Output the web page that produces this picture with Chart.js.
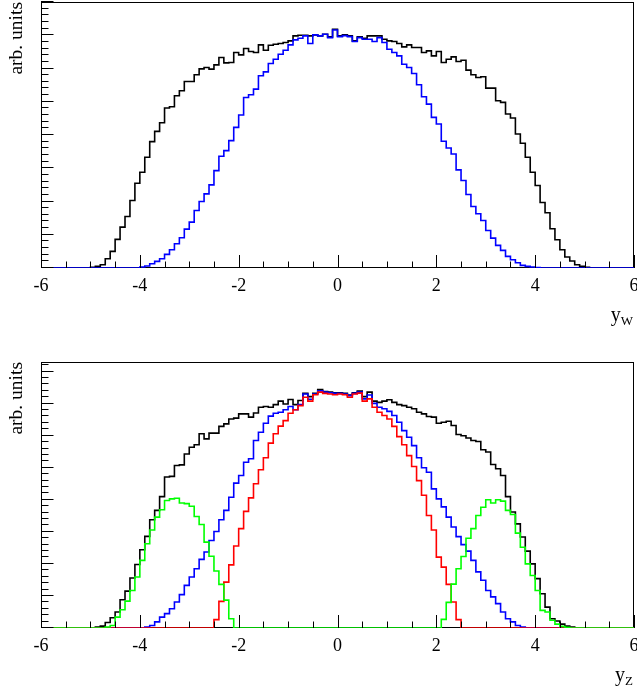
<!DOCTYPE html>
<html>
<head>
<meta charset="utf-8">
<title>Rapidity distributions</title>
<script src="https://cdn.jsdelivr.net/npm/chart.js@4.4.1/dist/chart.umd.min.js"></script>
<style>
  body { margin: 0; background: #fff; }
  #page { position: relative; width: 637px; height: 691px; overflow: hidden;
          font-family: 'Liberation Serif', 'Times New Roman', serif; color: #000; }
  #page canvas { position: absolute; left: 0; }
  .ytitle { position: absolute; width: 90px; height: 20px; line-height: 20px; font-size: 19.5px;
            text-align: right; white-space: nowrap; transform: rotate(-90deg); }
  .xtitle { position: absolute; right: 4px; font-size: 20px; line-height: 20px; white-space: nowrap; }
  .xtitle span { font-size: 13px; position: relative; top: 4px; }
</style>
</head>
<body>
<div id="page">
  <canvas id="wChart" width="637" height="345" style="top:0"></canvas>
  <canvas id="zChart" width="637" height="346" style="top:345px"></canvas>
  <div class="ytitle" style="left:-29px; top:37px">arb. units</div>
  <div class="ytitle" style="left:-29px; top:397px">arb. units</div>
  <div class="xtitle" style="top:304px">y<span>W</span></div>
  <div class="xtitle" style="top:664px">y<span>Z</span></div>
</div>
<script>
// histogram bin edges (0.1 wide, -6 .. 6)
const binEdges = [
  -6.0, -5.9, -5.8, -5.7, -5.6, -5.5, -5.4, -5.3, -5.2, -5.1,
  -5.0, -4.9, -4.8, -4.7, -4.6, -4.5, -4.4, -4.3, -4.2, -4.1,
  -4.0, -3.9, -3.8, -3.7, -3.6, -3.5, -3.4, -3.3, -3.2, -3.1,
  -3.0, -2.9, -2.8, -2.7, -2.6, -2.5, -2.4, -2.3, -2.2, -2.1,
  -2.0, -1.9, -1.8, -1.7, -1.6, -1.5, -1.4, -1.3, -1.2, -1.1,
  -1.0, -0.9, -0.8, -0.7, -0.6, -0.5, -0.4, -0.3, -0.2, -0.1,
  0.0, 0.1, 0.2, 0.3, 0.4, 0.5, 0.6, 0.7, 0.8, 0.9,
  1.0, 1.1, 1.2, 1.3, 1.4, 1.5, 1.6, 1.7, 1.8, 1.9,
  2.0, 2.1, 2.2, 2.3, 2.4, 2.5, 2.6, 2.7, 2.8, 2.9,
  3.0, 3.1, 3.2, 3.3, 3.4, 3.5, 3.6, 3.7, 3.8, 3.9,
  4.0, 4.1, 4.2, 4.3, 4.4, 4.5, 4.6, 4.7, 4.8, 4.9,
  5.0, 5.1, 5.2, 5.3, 5.4, 5.5, 5.6, 5.7, 5.8, 5.9,
  6.0
];

const xTickLabels = [-6, -4, -2, 0, 2, 4, 6];

// upper panel: y_W
const yWBlack = [
  0, 0, 0, 0, 0, 0, 0, 0, 0, 0,
  0.02, 0.05, 0.10, 0.28, 0.50, 0.86, 1.23, 1.55, 2.03, 2.55,
  2.88, 3.33, 3.80, 4.11, 4.37, 4.81, 4.85, 5.18, 5.33, 5.61,
  5.61, 5.81, 5.99, 6.03, 5.98, 6.11, 6.33, 6.17, 6.18, 6.48,
  6.41, 6.60, 6.51, 6.48, 6.71, 6.55, 6.70, 6.73, 6.75, 6.78,
  6.83, 6.98, 7.00, 7.00, 6.98, 7.01, 6.98, 7.03, 6.95, 7.18,
  6.98, 7.01, 6.98, 6.83, 6.95, 6.91, 6.98, 6.98, 6.98, 6.88,
  6.83, 6.81, 6.75, 6.65, 6.71, 6.63, 6.63, 6.48, 6.53, 6.38,
  6.51, 6.18, 6.28, 6.35, 6.21, 6.25, 5.95, 5.81, 5.73, 5.75,
  5.41, 5.41, 5.03, 4.98, 4.63, 4.51, 4.03, 3.75, 3.33, 2.88,
  2.48, 1.97, 1.66, 1.18, 0.85, 0.55, 0.33, 0.21, 0.10, 0.05,
  0.02, 0, 0, 0, 0, 0, 0, 0, 0, 0
];
const yWBlue = [
  0, 0, 0, 0, 0, 0, 0, 0, 0, 0,
  0, 0, 0, 0, 0, 0, 0, 0, 0, 0,
  0.03, 0.06, 0.13, 0.20, 0.28, 0.41, 0.55, 0.73, 0.91, 1.17,
  1.38, 1.73, 2.00, 2.23, 2.50, 2.93, 3.36, 3.53, 3.83, 4.23,
  4.60, 5.13, 5.21, 5.38, 5.78, 5.90, 6.15, 6.28, 6.43, 6.55,
  6.71, 6.86, 6.91, 6.98, 6.75, 7.01, 6.98, 7.03, 6.93, 7.16,
  6.96, 6.99, 6.96, 6.81, 6.93, 6.88, 6.88, 6.81, 6.93, 6.78,
  6.58, 6.48, 6.38, 6.13, 6.03, 5.85, 5.51, 5.15, 4.93, 4.53,
  4.33, 3.81, 3.61, 3.43, 2.95, 2.63, 2.21, 1.85, 1.63, 1.43,
  1.13, 0.90, 0.68, 0.53, 0.35, 0.25, 0.16, 0.08, 0.05, 0.03,
  0.01, 0, 0, 0, 0, 0, 0, 0, 0, 0,
  0, 0, 0, 0, 0, 0, 0, 0, 0, 0
];

// lower panel: y_Z
const yZBlack = [
  0, 0, 0, 0, 0, 0, 0, 0, 0, 0,
  0, 0.03, 0.06, 0.17, 0.32, 0.50, 0.88, 1.15, 1.56, 1.98,
  2.44, 2.86, 3.38, 3.67, 4.10, 4.71, 4.73, 5.07, 5.09, 5.43,
  5.64, 5.72, 6.06, 5.90, 6.08, 6.08, 6.29, 6.37, 6.52, 6.55,
  6.68, 6.68, 6.58, 6.71, 6.89, 6.91, 6.89, 6.97, 7.08, 6.99,
  7.13, 6.97, 7.10, 7.32, 7.22, 7.32, 7.44, 7.38, 7.36, 7.34,
  7.34, 7.32, 7.27, 7.34, 7.39, 7.22, 7.36, 7.08, 7.04, 7.08,
  7.12, 7.04, 6.97, 6.94, 6.89, 6.84, 6.73, 6.68, 6.60, 6.58,
  6.39, 6.42, 6.45, 6.32, 6.04, 6.00, 5.93, 5.85, 5.82, 5.56,
  5.49, 5.10, 4.97, 4.76, 4.10, 3.62, 3.25, 2.84, 2.40, 2.00,
  1.54, 1.07, 0.65, 0.29, 0.22, 0.12, 0.06, 0.03, 0.01, 0,
  0, 0, 0, 0, 0, 0, 0, 0, 0, 0
];
const yZBlue = [
  0, 0, 0, 0, 0, 0, 0, 0, 0, 0,
  0, 0, 0, 0, 0, 0, 0, 0, 0, 0,
  0.01, 0.03, 0.08, 0.19, 0.34, 0.45, 0.60, 0.81, 1.04, 1.33,
  1.59, 1.85, 2.14, 2.37, 2.73, 3.01, 3.38, 3.67, 4.08, 4.52,
  4.76, 5.17, 5.28, 5.85, 6.11, 6.39, 6.61, 6.70, 6.73, 6.81,
  6.91, 6.81, 6.97, 7.30, 7.14, 7.30, 7.40, 7.36, 7.34, 7.32,
  7.32, 7.30, 7.25, 7.32, 7.36, 7.15, 7.27, 7.01, 6.89, 6.84,
  6.76, 6.63, 6.42, 6.16, 5.95, 5.69, 5.31, 5.00, 4.86, 4.34,
  4.03, 3.78, 3.46, 3.15, 2.85, 2.60, 2.40, 2.11, 1.75, 1.49,
  1.17, 0.97, 0.76, 0.50, 0.29, 0.19, 0.08, 0.03, 0.01, 0,
  0, 0, 0, 0, 0, 0, 0, 0, 0, 0,
  0, 0, 0, 0, 0, 0, 0, 0, 0, 0
];
const yZRed = [
  0, 0, 0, 0, 0, 0, 0, 0, 0, 0,
  0, 0, 0, 0, 0, 0, 0, 0, 0, 0,
  0, 0, 0, 0, 0, 0, 0, 0, 0, 0,
  0, 0, 0, 0, 0, 0.26, 0.83, 1.43, 1.97, 2.56,
  3.10, 3.64, 4.06, 4.50, 4.94, 5.31, 5.77, 6.06, 6.30, 6.47,
  6.70, 6.81, 6.94, 7.20, 7.08, 7.28, 7.36, 7.32, 7.30, 7.28,
  7.30, 7.28, 7.20, 7.30, 7.33, 7.08, 7.15, 6.89, 6.73, 6.63,
  6.52, 6.29, 5.97, 5.72, 5.38, 5.04, 4.60, 4.14, 3.51, 3.06,
  2.21, 1.90, 1.36, 0.81, 0.26, 0, 0, 0, 0, 0,
  0, 0, 0, 0, 0, 0, 0, 0, 0, 0,
  0, 0, 0, 0, 0, 0, 0, 0, 0, 0,
  0, 0, 0, 0, 0, 0, 0, 0, 0, 0
];
const yZGreen = [
  0, 0, 0, 0, 0, 0, 0, 0, 0, 0,
  0, 0, 0, 0.03, 0.08, 0.34, 0.57, 0.84, 1.17, 1.59,
  2.11, 2.63, 3.06, 3.46, 3.69, 3.98, 4.03, 4.05, 3.90, 3.88,
  3.80, 3.48, 3.23, 2.68, 2.24, 1.78, 1.36, 0.87, 0.29, 0,
  0, 0, 0, 0, 0, 0, 0, 0, 0, 0,
  0, 0, 0, 0, 0, 0, 0, 0, 0, 0,
  0, 0, 0, 0, 0, 0, 0, 0, 0, 0,
  0, 0, 0, 0, 0, 0, 0, 0, 0, 0,
  0, 0.27, 0.80, 1.37, 1.85, 2.23, 2.80, 3.10, 3.51, 3.77,
  4.00, 3.90, 4.00, 3.96, 3.67, 3.54, 2.96, 2.52, 2.00, 1.64,
  1.17, 0.55, 0.50, 0.24, 0.12, 0.05, 0.02, 0, 0, 0,
  0, 0, 0, 0, 0, 0, 0, 0, 0, 0
];

// one point per bin low edge, plus the closing edge, drawn as steps
function histPoints(values) {
  const pts = values.map((v, i) => ({ x: binEdges[i], y: v }));
  pts.push({ x: binEdges[values.length], y: values[values.length - 1] });
  return pts;
}

function histDataset(values, color, order) {
  return {
    data: histPoints(values),
    borderColor: color,
    borderWidth: 1.6,
    stepped: true,
    pointRadius: 0,
    fill: false,
    order: order
  };
}

// ROOT-like frame with inward major/minor ticks
const rootAxes = {
  id: 'rootAxes',
  beforeDatasetsDraw(chart) {
    const { ctx, chartArea: a } = chart;
    ctx.save();
    ctx.strokeStyle = '#000';
    ctx.lineWidth = 1;
    ctx.strokeRect(a.left + 0.5, a.top + 0.5, a.right - a.left - 1, a.bottom - a.top - 1);
    ctx.restore();
  },
  afterDatasetsDraw(chart) {
    const { ctx, chartArea: a, scales } = chart;
    const x = scales.x, y = scales.y;
    ctx.save();
    ctx.strokeStyle = '#000';
    ctx.lineWidth = 1;
    ctx.beginPath();
    for (let i = 0; i <= 24; i++) {
      const px = Math.round(x.getPixelForValue(-6 + i * 0.5)) + 0.5;
      const len = i % 4 === 0 ? 13 : 6.5;
      ctx.moveTo(px, a.bottom);
      ctx.lineTo(px, a.bottom - len);
    }
    for (let i = 0; i * 0.2 <= y.max + 1e-9; i++) {
      const py = Math.round(y.getPixelForValue(i * 0.2)) - 0.5;
      const len = i % 5 === 0 ? 12.5 : 7.5;
      ctx.moveTo(a.left, py);
      ctx.lineTo(a.left + len, py);
    }
    ctx.stroke();
    ctx.restore();
  }
};

function makePanel(canvasId, datasets, yMax, areaTop, areaBottom) {
  const canvas = document.getElementById(canvasId);
  const axisHeight = canvas.height - areaBottom;
  return new Chart(canvas, {
    type: 'line',
    data: { datasets: datasets },
    options: {
      responsive: false,
      animation: false,
      events: [],
      layout: { padding: { left: 41, right: 3, top: areaTop, bottom: 0 } },
      plugins: { legend: { display: false }, tooltip: { enabled: false } },
      scales: {
        x: {
          type: 'linear',
          min: -6,
          max: 6,
          grid: { display: false, drawTicks: false },
          border: { display: false },
          afterBuildTicks: scale => { scale.ticks = xTickLabels.map(v => ({ value: v })); },
          afterFit: scale => {
            scale.height = axisHeight;
            scale.paddingLeft = 0;
            scale.paddingRight = 0;
          },
          ticks: {
            padding: 7,
            maxRotation: 0,
            color: '#000',
            font: { family: "'Liberation Serif', serif", size: 18 }
          }
        },
        y: { display: false, min: 0, max: yMax }
      }
    },
    plugins: [rootAxes]
  });
}

makePanel('wChart', [
  histDataset(yWBlack, '#000000', 2),
  histDataset(yWBlue, '#0000ff', 1)
], 8.0, 2, 268);

makePanel('zChart', [
  histDataset(yZBlack, '#000000', 4),
  histDataset(yZBlue, '#0000ff', 3),
  histDataset(yZRed, '#ff0000', 2),
  histDataset(yZGreen, '#00ff00', 1)
], 8.3, 17, 283);
</script>
</body>
</html>
